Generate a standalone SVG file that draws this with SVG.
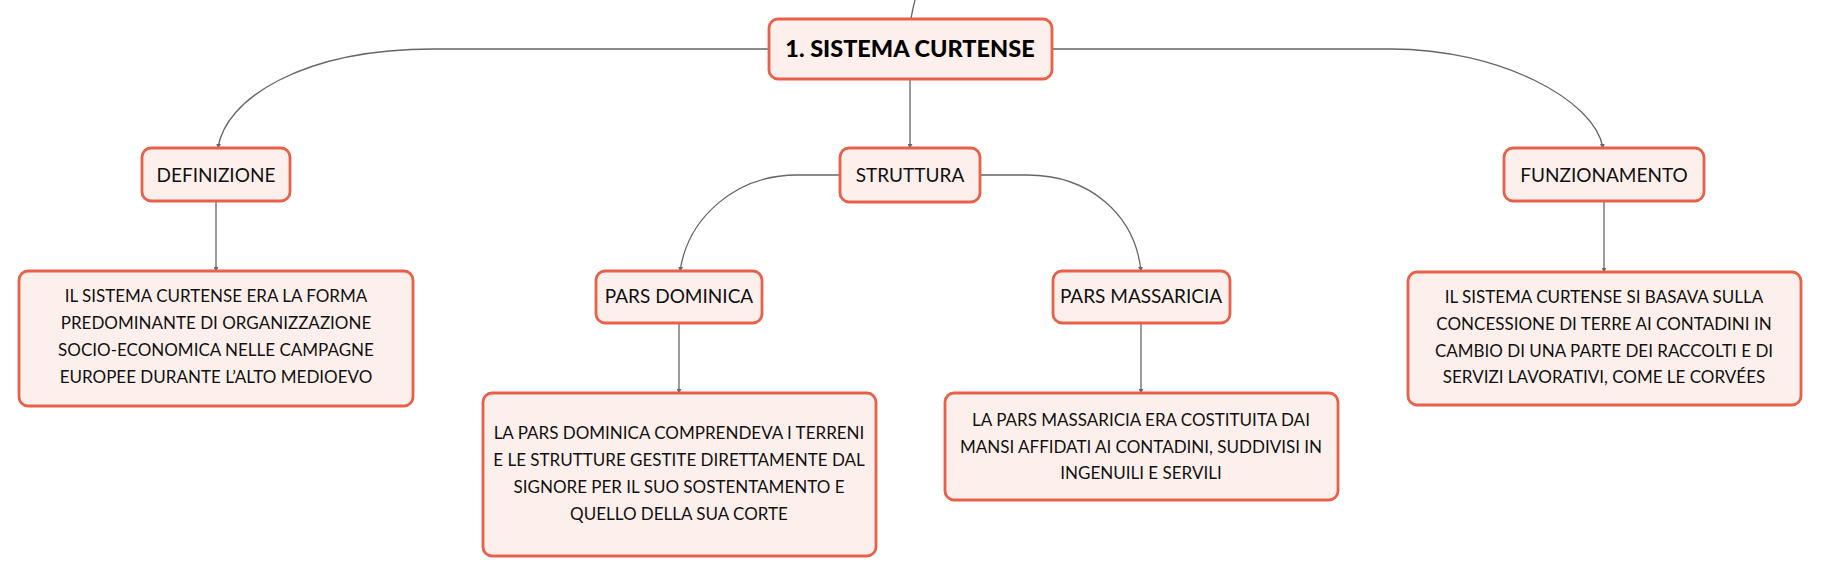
<svg xmlns="http://www.w3.org/2000/svg" width="1821" height="577" viewBox="0 0 1821 577">
<defs>
<marker id="ah" viewBox="0 0 6 6" refX="5" refY="3" markerWidth="5" markerHeight="5" orient="auto" markerUnits="userSpaceOnUse">
<path d="M0,0 L6,3 L0,6 z" fill="#666"/>
</marker>
<style>
.box{fill:#fdf0ec;stroke:#e9604a;stroke-width:2.8}
.t{font-family:Lato,"Noto Sans",sans-serif;font-size:17px;fill:#111;text-anchor:middle}
.h{font-family:Lato,"Noto Sans",sans-serif;font-size:19px;fill:#111;text-anchor:middle}
.root{font-family:Lato,"Noto Sans",sans-serif;font-size:23.5px;font-weight:900;fill:#000;text-anchor:middle}
.c{fill:none;stroke:#666;stroke-width:1.3}
</style>
</defs>
<rect width="1821" height="577" fill="#fff"/>
<g id="connectors">
<path class="c" d="M915,0 C913,8 912,12 911,19"/>
<path class="c" d="M769,49 H434 C300,49 225,100 218,148" marker-end="url(#ah)"/>
<path class="c" d="M1052,49 H1391 C1500,49 1595,100 1603,148" marker-end="url(#ah)"/>
<path class="c" d="M910,79 V148" marker-end="url(#ah)"/>
<path class="c" d="M840,175 H797 C735,175 688,218 680,271" marker-end="url(#ah)"/>
<path class="c" d="M980,175 H1027 C1090,175 1135,215 1141,271" marker-end="url(#ah)"/>
<path class="c" d="M216,201 V271" marker-end="url(#ah)"/>
<path class="c" d="M679,323 V393" marker-end="url(#ah)"/>
<path class="c" d="M1141,323 V393" marker-end="url(#ah)"/>
<path class="c" d="M1604,201 V272" marker-end="url(#ah)"/>
</g>
<g id="root">
<rect class="box" x="769" y="19" width="283" height="60" rx="9"/>
<text class="root" x="910" y="57">1. SISTEMA CURTENSE</text>
</g>
<g id="definizione">
<rect class="box" x="142" y="148" width="148" height="53" rx="9"/>
<text class="h" x="216" y="182">DEFINIZIONE</text>
</g>
<g id="struttura">
<rect class="box" x="840" y="148" width="140" height="54" rx="9"/>
<text class="h" x="910" y="182">STRUTTURA</text>
</g>
<g id="funzionamento">
<rect class="box" x="1504" y="148" width="200" height="53" rx="9"/>
<text class="h" x="1604" y="182">FUNZIONAMENTO</text>
</g>
<g id="def-testo">
<rect class="box" x="19" y="271" width="394" height="135" rx="9"/>
<text class="t" x="216" y="302">IL SISTEMA CURTENSE ERA LA FORMA</text>
<text class="t" x="216" y="329">PREDOMINANTE DI ORGANIZZAZIONE</text>
<text class="t" x="216" y="356">SOCIO-ECONOMICA NELLE CAMPAGNE</text>
<text class="t" x="216" y="383">EUROPEE DURANTE L’ALTO MEDIOEVO</text>
</g>
<g id="pars-dominica">
<rect class="box" x="596" y="271" width="166" height="52" rx="9"/>
<text class="h" x="679" y="303">PARS DOMINICA</text>
</g>
<g id="pars-massaricia">
<rect class="box" x="1053" y="271" width="177" height="52" rx="9"/>
<text class="h" x="1141" y="303">PARS MASSARICIA</text>
</g>
<g id="dominica-testo">
<rect class="box" x="483" y="393" width="393" height="163" rx="9"/>
<text class="t" x="679" y="439">LA PARS DOMINICA COMPRENDEVA I TERRENI</text>
<text class="t" x="679" y="466">E LE STRUTTURE GESTITE DIRETTAMENTE DAL</text>
<text class="t" x="679" y="493">SIGNORE PER IL SUO SOSTENTAMENTO E</text>
<text class="t" x="679" y="520">QUELLO DELLA SUA CORTE</text>
</g>
<g id="massaricia-testo">
<rect class="box" x="945" y="393" width="393" height="107" rx="9"/>
<text class="t" x="1141" y="426">LA PARS MASSARICIA ERA COSTITUITA DAI</text>
<text class="t" x="1141" y="453">MANSI AFFIDATI AI CONTADINI, SUDDIVISI IN</text>
<text class="t" x="1141" y="479">INGENUILI E SERVILI</text>
</g>
<g id="funz-testo">
<rect class="box" x="1408" y="272" width="393" height="133" rx="9"/>
<text class="t" x="1604" y="303">IL SISTEMA CURTENSE SI BASAVA SULLA</text>
<text class="t" x="1604" y="330">CONCESSIONE DI TERRE AI CONTADINI IN</text>
<text class="t" x="1604" y="357">CAMBIO DI UNA PARTE DEI RACCOLTI E DI</text>
<text class="t" x="1604" y="383">SERVIZI LAVORATIVI, COME LE CORVÉES</text>
</g>
</svg>
